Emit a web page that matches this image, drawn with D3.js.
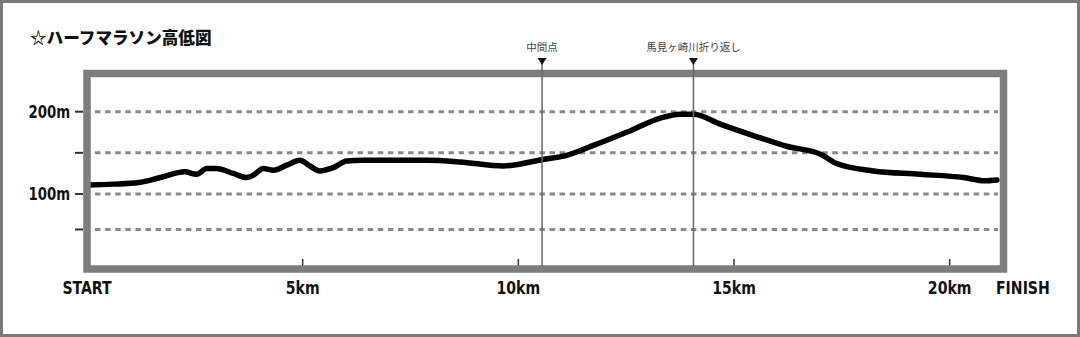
<!DOCTYPE html>
<html>
<head>
<meta charset="utf-8">
<script src="https://cdn.jsdelivr.net/npm/d3@7"></script>
<style>
    body { margin: 0; background: #fff; }
    svg { display: block; }
    .lbl { font-family: "Liberation Sans Narrow", "DejaVu Sans Condensed", "Liberation Sans", sans-serif; font-weight: bold; fill: #111; }
    .jp { font-family: "Noto Sans CJK JP", sans-serif; }
</style>
</head>
<body>
<script>
// course profile, km / metres
const distances = [0, 0.6, 1.2, 1.7, 2.27, 2.54, 2.78, 3.0, 3.39, 3.7, 3.86, 4.09, 4.32, 4.63, 4.94,
    5.17, 5.4, 5.71, 6.02, 6.4, 7.88, 8.65, 9.65, 10.57, 11.12, 11.74, 12.51, 13.28, 13.75,
    14.06, 14.68, 15.45, 16.22, 17.02, 17.38, 18.23, 19.31, 20.32, 20.82, 21.0975];
const elevations = [111, 112, 114, 120, 127, 124, 131, 131, 125, 120, 123, 131, 129, 135, 141,
    134, 128, 132, 140, 141, 141, 139, 134, 142, 147, 159, 175, 192, 197,
    197, 185, 171, 158, 148, 137, 128, 124, 120, 116, 117];

const kmTicks = [0, 5, 10, 15, 20];
const kmLabels = ["START", "5km", "10km", "15km", "20km"];
const finishKm = 21.0975;
const finishLabel = "FINISH";

const gridValues = [200, 150, 100, 50];
const yLabelValues = [200, 100];

const markerKm = [10.55, 14.06];
const markerLabels = ["中間点", "馬見ヶ崎川折り返し"];

const title = "☆ハーフマラソン高低図";

class ElevationChart {
    constructor() {
        this.width = 1080;
        this.height = 337;
        this.svg = null;
        this.narrow = 0.87;   // labels in the original use a condensed face
        this.x = d3.scaleLinear().domain([0, finishKm]).range([87, 997]);
        // drawn slightly compressed below 100m in the original
        this.y = d3.scaleLinear().domain([50, 100, 200]).range([229.5, 194, 111.7]);
    }

    init() {
        this.svg = d3.select("body").append("svg")
            .attr("width", this.width)
            .attr("height", this.height);

        this.svg.append("rect")
            .attr("x", 1.5).attr("y", 1.5)
            .attr("width", this.width - 3).attr("height", this.height - 3)
            .attr("fill", "#fff")
            .attr("stroke", "#7a7a7a")
            .attr("stroke-width", 3);

        this.svg.append("text")
            .attr("class", "jp")
            .attr("x", 30).attr("y", 44)
            .style("font-size", "16.6px")
            .style("font-weight", "900")
            .style("fill", "#111")
            .text(title);

        this.drawGrid();
        this.drawProfile();
        this.drawFrame();
        this.drawAxes();
        this.drawMarkers();
    }

    drawGrid() {
        this.svg.selectAll(".grid")
            .data(gridValues)
            .enter().append("line")
            .attr("class", "grid")
            .attr("x1", 95).attr("x2", 998)
            .attr("y1", d => this.y(d)).attr("y2", d => this.y(d))
            .style("stroke", "#8a8a8a")
            .style("stroke-width", 3)
            .style("stroke-dasharray", "5.5 4.6");
    }

    drawProfile() {
        const points = distances.map((d, i) => [d, elevations[i]]);
        const line = d3.line()
            .x(d => this.x(d[0]))
            .y(d => this.y(d[1]))
            .curve(d3.curveMonotoneX);

        this.svg.append("path")
            .datum(points)
            .attr("d", line)
            .style("fill", "none")
            .style("stroke", "#000")
            .style("stroke-width", 5.5)
            .style("stroke-linejoin", "round")
            .style("stroke-linecap", "round");
    }

    drawFrame() {
        this.svg.append("rect")
            .attr("x", 87).attr("y", 73.5)
            .attr("width", 916.5).attr("height", 195.5)
            .style("fill", "none")
            .style("stroke", "#7d7d7d")
            .style("stroke-width", 7.5);
    }

    drawAxes() {
        const s = this.narrow;

        // km ticks sit on the inside of the bottom frame
        this.svg.selectAll(".kmtick")
            .data(kmTicks.slice(1))
            .enter().append("line")
            .attr("x1", d => this.x(d)).attr("x2", d => this.x(d))
            .attr("y1", 259).attr("y2", 265.5)
            .style("stroke", "#333")
            .style("stroke-width", 1.5);

        this.svg.selectAll(".kmlabel")
            .data(kmTicks)
            .enter().append("text")
            .attr("class", "lbl")
            .attr("transform", d => `translate(${this.x(d)},294) scale(${s},1)`)
            .attr("text-anchor", "middle")
            .style("font-size", "18px")
            .text((d, i) => kmLabels[i]);

        this.svg.append("text")
            .attr("class", "lbl")
            .attr("transform", `translate(${this.x(finishKm) - 1},294) scale(${s},1)`)
            .style("font-size", "18px")
            .text(finishLabel);

        this.svg.selectAll(".ytick")
            .data(gridValues)
            .enter().append("line")
            .attr("x1", 75).attr("x2", 83)
            .attr("y1", d => this.y(d)).attr("y2", d => this.y(d))
            .style("stroke", "#333")
            .style("stroke-width", 2);

        this.svg.selectAll(".ylabel")
            .data(yLabelValues)
            .enter().append("text")
            .attr("class", "lbl")
            .attr("transform", d => `translate(70,${this.y(d) + 6}) scale(${s},1)`)
            .attr("text-anchor", "end")
            .style("font-size", "17px")
            .text(d => d + "m");
    }

    drawMarkers() {
        const g = this.svg.selectAll(".marker")
            .data(markerKm)
            .enter().append("g")
            .attr("transform", d => `translate(${this.x(d)},0)`);

        g.append("line")
            .attr("y1", 62).attr("y2", 266)
            .style("stroke", "#666")
            .style("stroke-width", 1.5);

        g.append("path")
            .attr("d", "M-4.5,58 L4.5,58 L0,65 Z")
            .style("fill", "#111");

        g.append("text")
            .attr("class", "jp")
            .attr("y", 51)
            .attr("text-anchor", "middle")
            .style("font-size", "10.5px")
            .style("fill", "#444")
            .text((d, i) => markerLabels[i]);
    }
}

const chart = new ElevationChart();
chart.init();
</script>
</body>
</html>
